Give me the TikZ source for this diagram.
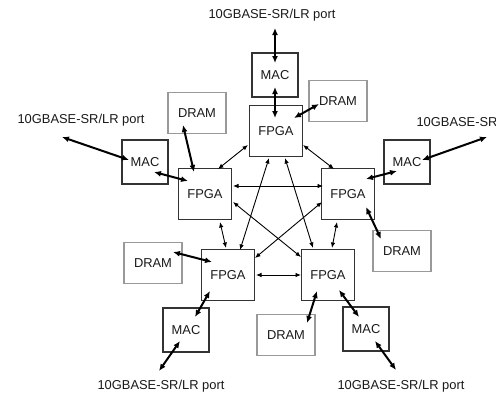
\documentclass[tikz,border=0pt]{standalone}
\usepackage{fontspec}
\setmainfont{Liberation Sans}
\usetikzlibrary{arrows.meta}
\definecolor{boxline}{HTML}{333333}
\definecolor{dramline}{HTML}{999999}
\definecolor{txt}{HTML}{1A1A1A}
\begin{document}
\begin{tikzpicture}[
x=1pt,y=-1pt,
every node/.style={font=\fontsize{12.9}{15}\selectfont, text=txt},
box/.style={
draw=boxline,
line width=1.1pt,
inner sep=0pt
},
fpga/.style={box, minimum width=53pt, minimum height=51pt},
mac/.style={box, minimum width=46pt, minimum height=44pt},
dram/.style={box, draw=dramline, minimum width=58pt, minimum height=41pt},
portlabel/.style={inner sep=0pt},
arrow/.style={{Latex[length=7pt,width=6pt]}-{Latex[length=7pt,width=6pt]}, line width=2pt},
thinarrow/.style={{Latex[length=5.5pt,width=4.5pt]}-{Latex[length=5.5pt,width=4.5pt]}, line width=0.9pt}
]
\useasboundingbox (0,0) rectangle (496,394);
% FPGAs
\node[fpga] (topfpga) at (276,131) {FPGA};
\node[fpga] (leftfpga) at (205,194) {FPGA};
\node[fpga] (rightfpga) at (348,194) {FPGA};
\node[fpga] (blfpga) at (228,275) {FPGA};
\node[fpga] (brfpga) at (328,275) {FPGA};
% MACs
\node[mac] (topmac) at (275,75) {MAC};
\node[mac] (leftmac) at (145,162) {MAC};
\node[mac] (rightmac) at (407,162) {MAC};
\node[mac] (blmac) at (186,330) {MAC};
\node[mac] (brmac) at (366,329) {MAC};
% DRAMs
\node[dram] (topdram) at (338,101) {DRAM};
\node[dram] (leftdram) at (197,113) {DRAM};
\node[dram] (rightdram) at (402,251) {DRAM};
\node[dram] (bldram) at (153,263) {DRAM};
\node[dram] (brdram) at (286,335) {DRAM};
% ports
\node[portlabel] (topport) at (272,15) {10GBASE-SR/LR port};
\node[portlabel] (leftport) at (81,120) {10GBASE-SR/LR port};
\node[portlabel] (rightport) at (480,123) {10GBASE-SR/LR port};
\node[portlabel] (blport) at (161,386) {10GBASE-SR/LR port};
\node[portlabel] (brport) at (401,386) {10GBASE-SR/LR port};
% port and memory links
\draw[arrow] ([shift={(3,13)}]topport.center) -- ([shift={(0,-12)}]topmac.center);
\draw[arrow] ([shift={(0,12)}]topmac.center) -- ([shift={(-1,-13)}]topfpga.center);
\draw[arrow] ([shift={(18,-13)}]topfpga.center) -- ([shift={(-19,3)}]topdram.center);
\draw[arrow] ([shift={(-14,12)}]leftdram.center) -- ([shift={(-11,-22)}]leftfpga.center);
\draw[arrow] ([shift={(9,10)}]leftmac.center) -- ([shift={(-17,-13)}]leftfpga.center);
\draw[arrow] ([shift={(-19,17)}]leftport.center) -- ([shift={(-16,-2)}]leftmac.center);
\draw[arrow] ([shift={(18,-15)}]rightfpga.center) -- ([shift={(-10,9)}]rightmac.center);
\draw[arrow] ([shift={(15,-2)}]rightmac.center) -- ([shift={(7,14)}]rightport.center);
\draw[arrow] ([shift={(18,13)}]rightfpga.center) -- ([shift={(-21,-12)}]rightdram.center);
\draw[arrow] ([shift={(20,-11)}]bldram.center) -- ([shift={(-16,-13)}]blfpga.center);
\draw[arrow] ([shift={(-18,16)}]blfpga.center) -- ([shift={(9,-13)}]blmac.center);
\draw[arrow] ([shift={(-6,11)}]blmac.center) -- ([shift={(-2,-15)}]blport.center);
\draw[arrow] ([shift={(-11,16)}]brfpga.center) -- ([shift={(21,-12)}]brdram.center);
\draw[arrow] ([shift={(11,15)}]brfpga.center) -- ([shift={(-7,-12)}]brmac.center);
\draw[arrow] ([shift={(9,12)}]brmac.center) -- ([shift={(-5,-16)}]brport.center);
% FPGA mesh
\draw[thinarrow] ([shift={(-28,14)}]topfpga.center) -- ([shift={(13,-25)}]leftfpga.center);
\draw[thinarrow] ([shift={(27,14)}]topfpga.center) -- ([shift={(-14,-25)}]rightfpga.center);
\draw[thinarrow] ([shift={(28,-8)}]leftfpga.center) -- ([shift={(-25,-8)}]rightfpga.center);
\draw[thinarrow] ([shift={(-7,27)}]topfpga.center) -- ([shift={(12,-25)}]blfpga.center);
\draw[thinarrow] ([shift={(9,27)}]topfpga.center) -- ([shift={(-15,-27)}]brfpga.center);
\draw[thinarrow] ([shift={(28,8)}]leftfpga.center) -- ([shift={(-27,-18)}]brfpga.center);
\draw[thinarrow] ([shift={(-26,8)}]rightfpga.center) -- ([shift={(27,-17)}]blfpga.center);
\draw[thinarrow] ([shift={(15,28)}]leftfpga.center) -- ([shift={(-2,-27)}]blfpga.center);
\draw[thinarrow] ([shift={(-11,28)}]rightfpga.center) -- ([shift={(4,-27)}]brfpga.center);
\draw[thinarrow] ([shift={(28,0)}]blfpga.center) -- ([shift={(-27,0)}]brfpga.center);
\end{tikzpicture}
\end{document}
